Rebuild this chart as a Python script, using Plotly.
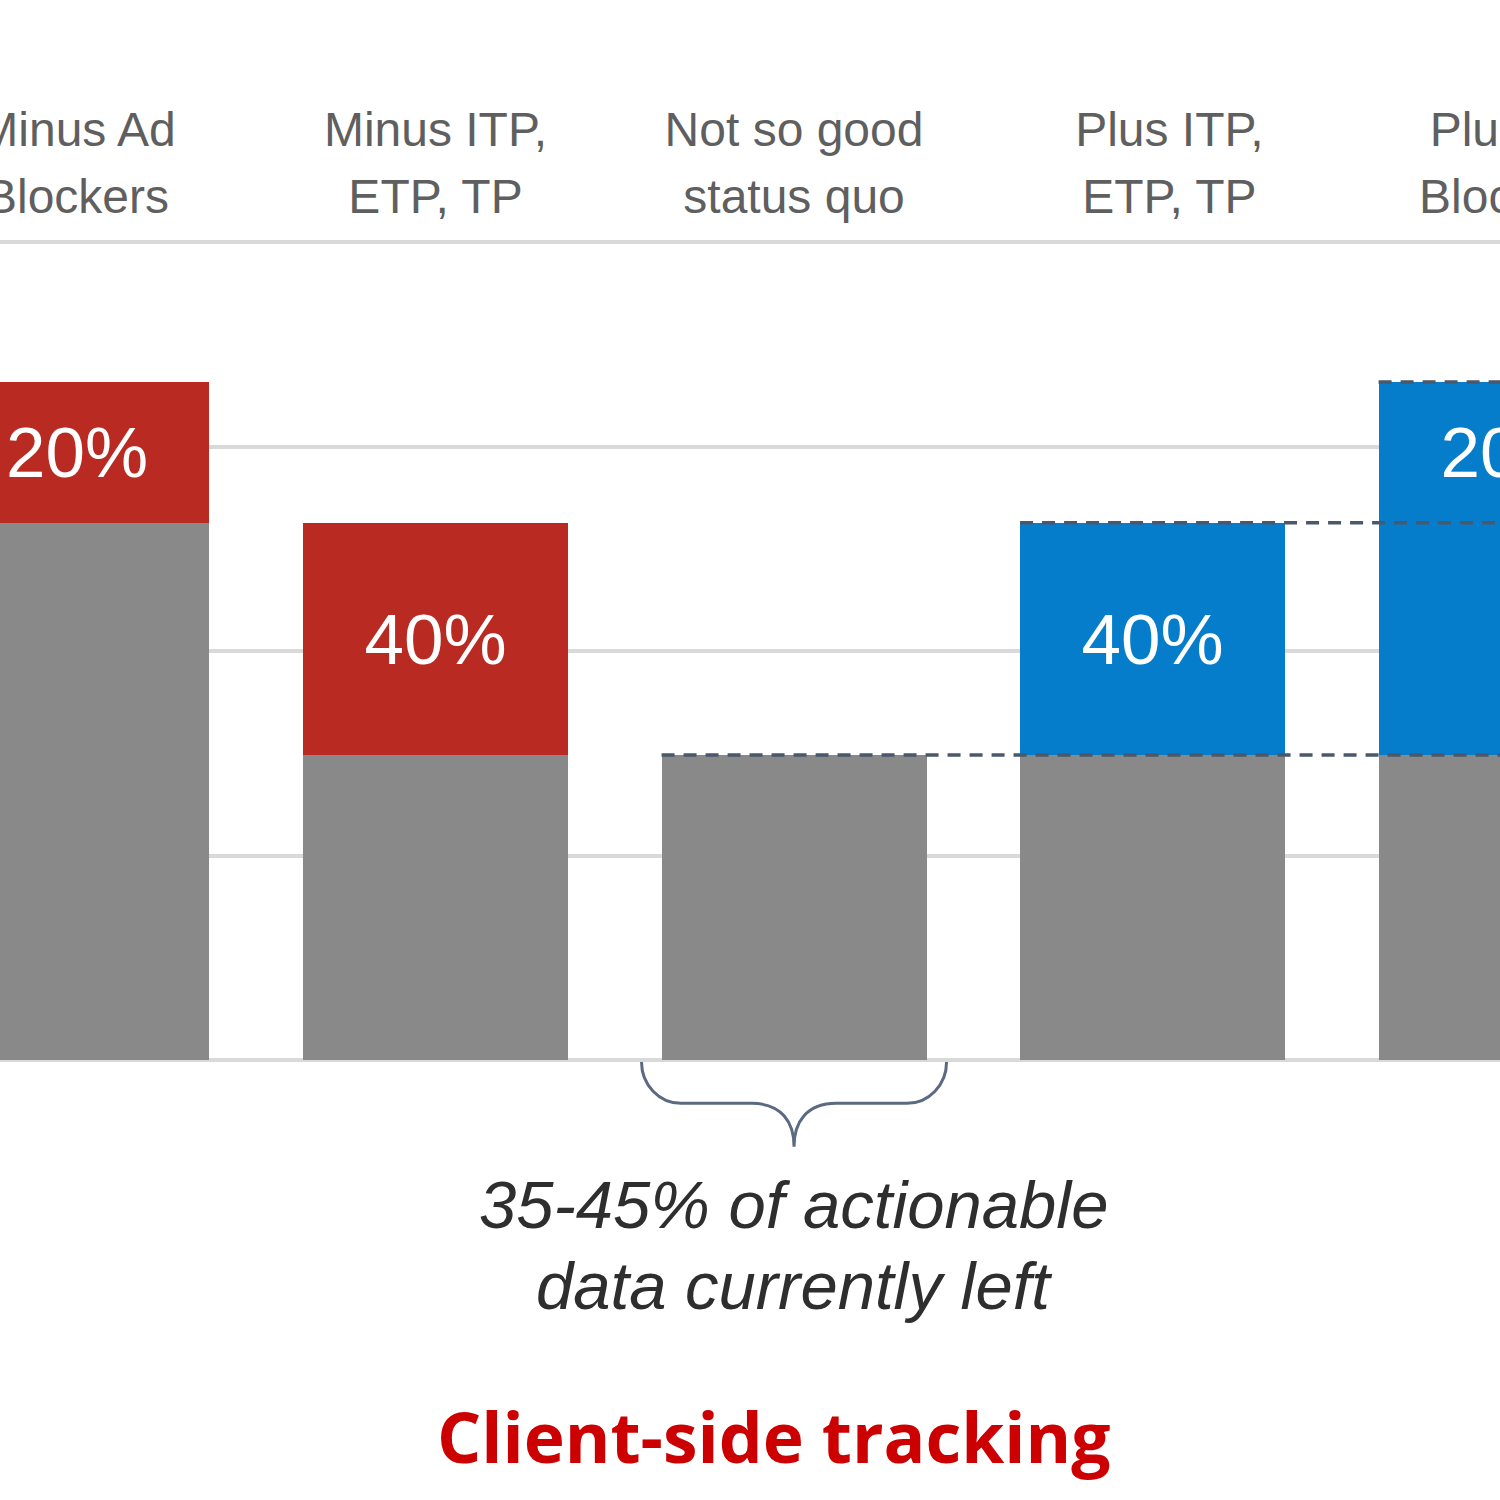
import plotly.graph_objects as go

# ---------------- data ----------------
categories = ["Minus Ad Blockers", "Minus ITP, ETP, TP", "Not so good status quo",
              "Plus ITP, ETP, TP", "Plus Ad Blockers"]
label_line1 = ["Minus Ad", "Minus ITP,", "Not so good", "Plus ITP,", "Plus Ad"]
label_line2 = ["Blockers", "ETP, TP", "status quo", "ETP, TP", "Blockers"]

gray_vals = [65.7, 37.3, 37.3, 37.3, 37.3]
red_vals = [17.2, 28.4, 0, 0, 0]
blue40_vals = [0, 0, 0, 28.4, 28.4]
blue20_vals = [0, 0, 0, 0, 17.2]

red_text = ["20%", "40%", "", "", ""]
blue40_text = ["", "", "", "40%", ""]
blue20_text = ["", "", "", "", "20%"]

grid_vals = [0, 25, 50, 75, 100]
label_y1 = 113.2
label_y2 = 105.0

note_line1 = "35-45% of actionable"
note_line2 = "data currently left"
title_text = "Client-side tracking"

# ---------------- styling ----------------
GRAY = "#898989"
RED = "#B82A22"
BLUE = "#067DCA"
DASH = "#4a586c"
BAR_W = 0.739
FIG_W = 1700          # wider than the window: the page crops it at 1500 px
FIG_H = 1500
XR = [-0.2148, 4.527]
YR = [-53.8, 129.6]
LABEL_DX = [0, 0, 0, 0.047, 0]   # small horizontal nudges of header labels

xs = list(range(len(categories)))

fig = go.Figure()

def add_bar(vals, color, text=None):
    fig.add_trace(go.Bar(
        x=xs, y=vals, width=BAR_W, marker=dict(color=color, line=dict(width=0)),
        text=text, textposition="inside" if text else None,
        insidetextanchor="middle", textangle=0, constraintext="none",
        textfont=dict(family="Liberation Sans, Arial", size=71, color="white"),
        hoverinfo="skip", showlegend=False,
    ))

add_bar(gray_vals, GRAY)
add_bar(red_vals, RED, red_text)
add_bar(blue40_vals, BLUE, blue40_text)
add_bar(blue20_vals, BLUE, blue20_text)

# top category labels (two lines)
label_x = [x + d for x, d in zip(xs, LABEL_DX)]
for ys, lines in ((label_y1, label_line1), (label_y2, label_line2)):
    fig.add_trace(go.Scatter(
        x=label_x, y=[ys] * len(xs), mode="text", text=lines,
        textposition="middle center", cliponaxis=False,
        textfont=dict(family="Liberation Sans, Arial", size=48, color="#5f5f5f"),
        hoverinfo="skip", showlegend=False,
    ))

# dashed reference lines
totals = [g + r + b1 + b2 for g, r, b1, b2 in zip(gray_vals, red_vals, blue40_vals, blue20_vals)]
dash_levels = [
    (2, gray_vals[2]),
    (3, gray_vals[3] + blue40_vals[3]),
    (4, totals[4]),
]
for idx, yv in dash_levels:
    fig.add_shape(type="line", xref="x", yref="y",
                  x0=idx - BAR_W / 2, x1=XR[1], y0=yv, y1=yv,
                  line=dict(color=DASH, width=3.5, dash="13px,9px"))

# curly brace under the status-quo bar
c = 2
half = 0.4254
top, mid, tip = -0.25, -5.3, -10.6
r = 0.11
k = 0.552
r2 = 0.118
L, R = c - half, c + half
ym = top + k * (mid - top)
path = (f"M {L},{top} C {L},{ym} {L + r * (1 - k)},{mid} {L + r},{mid} "
        f"L {c - r2},{mid} C {c - 0.035},{mid} {c},{mid - 2.3} {c},{tip} "
        f"C {c},{mid - 2.3} {c + 0.035},{mid} {c + r2},{mid} "
        f"L {R - r},{mid} C {R - r * (1 - k)},{mid} {R},{ym} {R},{top}")
fig.add_shape(type="path", xref="x", yref="y", path=path,
              line=dict(color="#5b6a80", width=3))

# annotations below
fig.add_annotation(x=2, y=-17.7, xref="x", yref="y", text=note_line1, showarrow=False,
                   font=dict(family="Liberation Sans, Arial", size=67, color="#2e2e2e", style="italic"),
                   xanchor="center", yanchor="middle")
fig.add_annotation(x=2, y=-27.6, xref="x", yref="y", text=note_line2, showarrow=False,
                   font=dict(family="Liberation Sans, Arial", size=67, color="#2e2e2e", style="italic"),
                   xanchor="center", yanchor="middle")
fig.add_annotation(x=1.944, y=-46.0, xref="x", yref="y", text="<b>" + title_text + "</b>",
                   showarrow=False,
                   font=dict(family="Open Sans", size=69.5, color="#CC0000"),
                   xanchor="center", yanchor="middle")

fig.update_layout(
    width=FIG_W, height=FIG_H,
    margin=dict(l=0, r=0, t=0, b=0),
    paper_bgcolor="white", plot_bgcolor="white",
    barmode="stack", bargap=0,
    xaxis=dict(range=XR, visible=False, fixedrange=True),
    yaxis=dict(range=YR, tickvals=grid_vals, showticklabels=False,
               showgrid=True, gridcolor="#d9d9d9", gridwidth=4,
               zeroline=False, showline=False, ticks="", fixedrange=True),
)

fig.write_html(
    "out.html",
    post_script="document.body.style.margin='0';document.body.style.overflow='hidden';",
)
